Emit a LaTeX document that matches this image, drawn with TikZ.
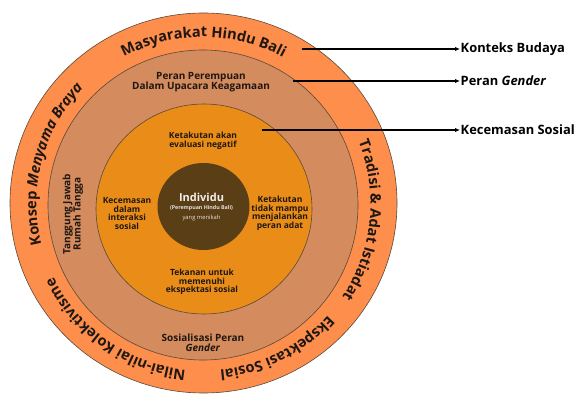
\documentclass[tikz,border=0pt]{standalone}
\usepackage{fontspec}
\setmainfont{Open Sans}
\usetikzlibrary{decorations.text, arrows.meta}
\definecolor{ringA}{HTML}{FD8E4C}
\definecolor{ringB}{HTML}{D48B5E}
\definecolor{ringC}{HTML}{E98D18}
\definecolor{coreD}{HTML}{5A3E16}
\definecolor{edgeG}{HTML}{5A4A3A}
\definecolor{txtD}{HTML}{1E1712}
\newcommand\ofnt{\fontsize{14.6}{17}\selectfont\bfseries}
\newcommand\ofnti{\fontsize{14.6}{17}\selectfont\bfseries\itshape}
\tikzset{
  ring/.style={draw=edgeG, line width=0.6pt},
  midtext/.style={font=\fontsize{10}{10.2}\selectfont\bfseries, text=txtD, align=center, inner sep=0pt},
  intext/.style={font=\fontsize{8.5}{8.5}\selectfont\bfseries, text=txtD, align=center, inner sep=0pt},
  lab/.style={font=\fontsize{12.9}{15}\selectfont\bfseries, text=black, anchor=west, inner sep=0.5pt},
  arr/.style={draw=black, line width=1.1pt, -{Latex[length=5pt,width=4.5pt]}}
}
\begin{document}
\begin{tikzpicture}[x=1pt,y=1pt]
\useasboundingbox (0,0) rectangle (578,394);
\coordinate (C) at (203.5,190);
% rings
\path[ring, fill=ringA] (203.5,191) ellipse [x radius=193.5, y radius=190];
\path[ring, fill=ringB] (203,189) ellipse [x radius=155, y radius=155];
\path[ring, fill=ringC] (204,185) ellipse [x radius=108, y radius=105];
\path[fill=coreD] (203.5,187.5) ellipse [x radius=46, y radius=43.5];
% curved outer texts
\path[decorate, decoration={text along path, text align=center, text color=txtD,
  text={|\ofnt|Masyarakat Hindu Bali}}]
  ([shift={(135:167)}]C) arc[start angle=135, end angle=45, radius=167];
\path[decorate, decoration={text along path, text align=center, text color=txtD,
  text={|\ofnt|Konsep |\ofnti|Menyama Braya}}]
  ([shift={(210:167)}]C) arc[start angle=210, end angle=120, radius=167];
\path[decorate, decoration={text along path, text align=center, text color=txtD,
  text={|\ofnt|Tradisi {\&} Adat Istiadat}}]
  ([shift={(39:167)}]C) arc[start angle=39, end angle=-51, radius=167];
\path[decorate, decoration={text along path, text align=center, text color=txtD,
  text={|\ofnt|Ekspektasi Sosial}}]
  ([shift={(-18:167)}]C) arc[start angle=-18, end angle=-108, radius=167];
\path[decorate, decoration={text along path, text align=center, text color=txtD,
  text={|\ofnt|Nilai-nilai Kolektivisme}}]
  ([shift={(280:167)}]C) arc[start angle=280, end angle=190, radius=167];
% middle ring texts
\node[midtext] (pp) at (201,312) {Peran Perempuan\\Dalam Upacara Keagamaan};
\node[midtext, rotate=90] (tj) at (73,180) {Tanggung Jawab\\Rumah Tangga};
\node[midtext] (sp) at (203,51) {Sosialisasi Peran\\\textit{Gender}};
% inner ring texts
\node[intext] (ka) at (203,253) {Ketakutan akan\\evaluasi negatif};
\node[intext] (kd) at (127,180.5) {Kecemasan\\dalam\\interaksi\\sosial};
\node[intext] (kt) at (280,180.5) {Ketakutan\\tidak mampu\\menjalankan\\peran adat};
\node[intext] (tu) at (202,112) {Tekanan untuk\\memenuhi\\ekspektasi sosial};
% core
\node[font=\fontsize{11}{12}\selectfont\bfseries, text=white!92!coreD, inner sep=0pt] (ind) at (201.5,197) {Individu};
\node[font=\fontsize{5.3}{6}\selectfont\bfseries, text=white!85!coreD, inner sep=0pt] (pb) at (201.5,186) {(Perempuan Hindu Bali)};
\node[font=\fontsize{5.8}{6}\selectfont, text=white!85!coreD, inner sep=0pt] (ym) at (201.5,176) {yang menikah};
% labels and arrows
\coordinate (a1) at (302,345);
\coordinate (a2) at (293,313);
\coordinate (a3) at (262,264);
\node[lab] (l1) at (460,345) {Konteks Budaya};
\node[lab] (l2) at (460,313) {Peran \textit{Gender}};
\node[lab] (l3) at (460,264) {Kecemasan Sosial};
\draw[arr] (a1) -- (l1.west);
\draw[arr] (a2) -- (l2.west);
\draw[arr] (a3) -- (l3.west);
\end{tikzpicture}
\end{document}
